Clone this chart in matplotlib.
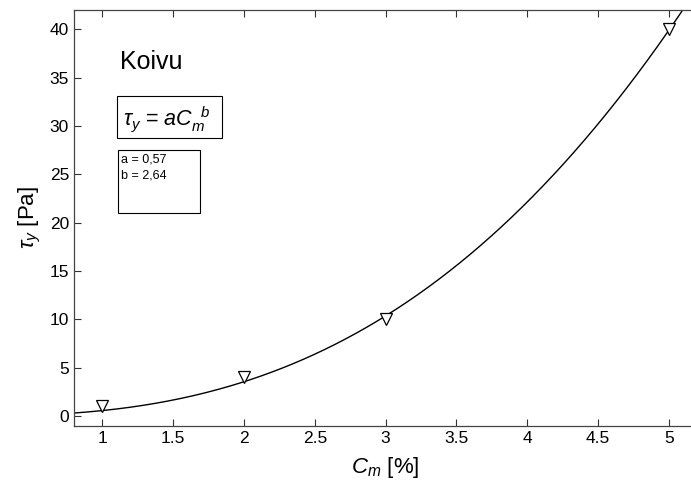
import numpy as np
import matplotlib
matplotlib.use("Agg")
import matplotlib.pyplot as plt

plt.rcParams["font.family"] = ["Liberation Sans", "DejaVu Sans"]
plt.rcParams["mathtext.fontset"] = "custom"
plt.rcParams["mathtext.rm"] = "Liberation Sans"
plt.rcParams["mathtext.it"] = "Liberation Sans:italic"

# Measured yield stress for birch (Koivu) fibre suspension
consistency = [1, 2, 3, 5]          # C_m [%]
yield_stress = [1, 4, 10, 40]       # tau_y [Pa]

# Power-law fit tau_y = a * C_m^b
a_fit = 0.57
b_fit = 2.64

x_ticks = [1, 1.5, 2, 2.5, 3, 3.5, 4, 4.5, 5]
y_ticks = [0, 5, 10, 15, 20, 25, 30, 35, 40]

fig = plt.figure(figsize=(6.91, 4.80), dpi=100)
ax = fig.add_axes([0.107, 0.113, 0.902, 0.866])

xs = np.linspace(0.8, 5.2, 300)
ax.plot(xs, a_fit * xs ** b_fit, color="black", lw=1.0)
ax.plot(consistency, yield_stress, linestyle="none", marker="v",
        markersize=8, markerfacecolor="white", markeredgecolor="black",
        markeredgewidth=0.9)

ax.set_xlim(0.8, 5.2)
ax.set_ylim(-1, 42)
ax.set_xticks(x_ticks)
ax.set_xticklabels([f"{t:g}" for t in x_ticks])
ax.set_yticks(y_ticks)
ax.tick_params(direction="in", length=5, width=0.8, labelsize=12.5,
               top=True, right=False, colors="#333333", labelcolor="black")
for side in ("left", "bottom", "top"):
    ax.spines[side].set_color("#444444")
    ax.spines[side].set_linewidth(0.9)
ax.spines["right"].set_visible(False)

ax.set_xlabel(r"$C_m$ [%]", fontsize=16, labelpad=7)
ax.set_ylabel(r"$\tau_y$ [Pa]", fontsize=16, labelpad=5)

fig.text(120 / 691, 1 - 62 / 480, "Koivu", fontsize=18, ha="left",
         va="center")

# Model equation box
fig.patches.append(plt.Rectangle((117 / 691, 1 - 138 / 480), 105 / 691, 42 / 480,
                                 transform=fig.transFigure, fill=False,
                                 edgecolor="black", linewidth=0.8))
fig.text(123 / 691, 1 - 119 / 480, r"$\tau_y$ = $aC_m^{\ \ b}$",
         fontsize=15.5, ha="left", va="center")

# Fit parameter box
fig.patches.append(plt.Rectangle((118 / 691, 1 - 213 / 480), 82 / 691, 63 / 480,
                                 transform=fig.transFigure, fill=False,
                                 edgecolor="black", linewidth=0.8))
fig.text(121 / 691, 1 - 160 / 480, f"a = {a_fit:.2f}".replace(".", ","),
         fontsize=9, va="center")
fig.text(121 / 691, 1 - 176 / 480, f"b = {b_fit:.2f}".replace(".", ","),
         fontsize=9, va="center")

fig.savefig("out.png", dpi=100)
